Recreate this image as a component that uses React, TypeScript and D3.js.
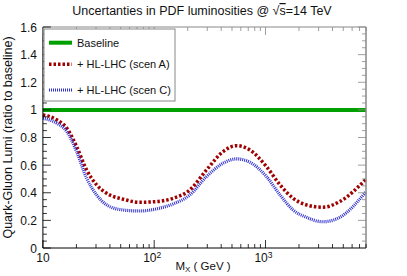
import React from "react";
import * as d3 from "d3";

const massA = [10, 13.3, 16.4, 20.1, 24.7, 30.4, 37.4, 52.7, 74.4, 105, 148, 209, 295, 416, 549, 723, 1021, 1351, 1772, 2334, 3289, 4645, 8000];
const lumiA = [0.964, 0.928, 0.867, 0.734, 0.565, 0.457, 0.396, 0.353, 0.331, 0.336, 0.36, 0.42, 0.565, 0.698, 0.741, 0.71, 0.589, 0.457, 0.36, 0.312, 0.295, 0.336, 0.498];
const massC = [10, 13.3, 16.4, 20.1, 24.7, 30.4, 37.4, 52.7, 74.4, 105, 148, 209, 295, 416, 549, 723, 1021, 1351, 1772, 2334, 3289, 4645, 8000];
const lumiC = [0.94, 0.904, 0.843, 0.698, 0.505, 0.384, 0.312, 0.275, 0.268, 0.283, 0.319, 0.384, 0.517, 0.614, 0.645, 0.621, 0.517, 0.384, 0.275, 0.222, 0.19, 0.222, 0.408];
const massBase = [10, 8000];
const lumiBase = [1, 1];
const yTicks = [0, 0.2, 0.4, 0.6, 0.8, 1, 1.2, 1.4, 1.6];
const xMajor = [10, 100, 1000];
const xMajorLabels = ["10", "10", "10"];
const xMajorExp = ["", "2", "3"];
const legendLabels = ["Baseline", "+ HL-LHC (scen A)", "+ HL-LHC (scen C)"];

const W = 407, H = 276;
const L = 42.9, R = 366, T = 27, B = 248;
const font = "'Liberation Sans', Arial, sans-serif";

export default function App() {
  const x = d3.scaleLog().domain([10, 8000]).range([L, R]);
  const y = d3.scaleLinear().domain([0, 1.6]).range([B, T]);
  const line = d3.line<[number, number]>().x(d => x(d[0])).y(d => y(d[1])).curve(d3.curveMonotoneX);
  const pathA = line(massA.map((m, i) => [m, lumiA[i]]) as [number, number][]) || "";
  const pathC = line(massC.map((m, i) => [m, lumiC[i]]) as [number, number][]) || "";
  const pathB = line(massBase.map((m, i) => [m, lumiBase[i]]) as [number, number][]) || "";

  const yMinor: number[] = [];
  for (let v = 0; v <= 1.6001; v += 0.05) yMinor.push(+v.toFixed(2));
  const xMinor: number[] = [];
  [10, 100, 1000].forEach(dec => { for (let k = 2; k <= 9; k++) { const v = dec * k; if (v <= 8000) xMinor.push(v); } });

  const red = "#a00000", blue = "#3030d0", green = "#00a000";
  return (
    <svg width={W} height={H} style={{ position: "absolute", left: 0, top: 0, background: "#fff" }} fontFamily={font}>
      <rect x={0} y={0} width={W} height={H} fill="#fff" />
      <text x={202} y={15} textAnchor="middle" fontSize={12.5} fill="#111">
        Uncertanties in PDF luminosities @ √<tspan textDecoration="overline">s</tspan>=14 TeV
      </text>
      {/* curves */}
      <path d={pathB} fill="none" stroke={green} strokeWidth={4} />
      <path d={pathA} fill="none" stroke={red} strokeWidth={3.5} strokeDasharray="2.5,2" />
      <path d={pathC} fill="none" stroke={blue} strokeWidth={3.2} strokeDasharray="1,1" />
      {/* frame */}
      <line x1={L} x2={R} y1={T} y2={T} stroke="#888" />
      <line x1={R} x2={R} y1={T} y2={B} stroke="#888" strokeWidth={1.5} />
      <line x1={L} x2={L} y1={T} y2={B} stroke="#000" />
      <line x1={L} x2={R} y1={B} y2={B} stroke="#000" />
      {/* y ticks */}
      {yMinor.map((v, i) => {
        const major = Math.abs(v / 0.2 - Math.round(v / 0.2)) < 1e-6;
        const len = major ? 8 : 4;
        return (
          <g key={"ym" + i}>
            <line x1={L} x2={L + len} y1={y(v)} y2={y(v)} stroke="#000" strokeWidth={0.8} />
            <line x1={R - len} x2={R} y1={y(v)} y2={y(v)} stroke="#888" strokeWidth={0.8} />
          </g>
        );
      })}
      {yTicks.map((v, i) => (
        <text key={"yt" + i} x={L - 6} y={y(v) + 4.5} textAnchor="end" fontSize={12} fill="#111">{String(v)}</text>
      ))}
      {/* x ticks */}
      {xMinor.map((v, i) => (
        <g key={"xm" + i}>
          <line x1={x(v)} x2={x(v)} y1={B} y2={B - 4} stroke="#000" strokeWidth={0.8} />
          <line x1={x(v)} x2={x(v)} y1={T} y2={T + 4} stroke="#888" strokeWidth={0.8} />
        </g>
      ))}
      {xMajor.map((v, i) => (
        <g key={"xM" + i}>
          <line x1={x(v)} x2={x(v)} y1={B} y2={B - 8} stroke="#000" strokeWidth={0.8} />
          <line x1={x(v)} x2={x(v)} y1={T} y2={T + 8} stroke="#888" strokeWidth={0.8} />
          <text x={x(v) + (xMajorExp[i] ? -2 : 0)} y={262} textAnchor="middle" fontSize={12} fill="#111">
            {xMajorLabels[i]}
            {xMajorExp[i] ? <tspan dy={-4.5} fontSize={8.5}>{xMajorExp[i]}</tspan> : null}
          </text>
        </g>
      ))}
      {/* axis titles */}
      <text x={203} y={270} textAnchor="middle" fontSize={11.5} fill="#111">
        M<tspan dy={2} fontSize={8}>X</tspan><tspan dy={-2}> ( GeV )</tspan>
      </text>
      <text transform={`translate(12,${(T + B) / 2}) rotate(-90)`} textAnchor="middle" fontSize={12.5} fill="#111">
        Quark-Gluon Lumi (ratio to baseline)
      </text>
      {/* legend */}
      <rect x={44} y={29} width={131} height={72} fill="#fff" stroke="#888" strokeWidth={1} />
      <line x1={49} x2={72} y1={42.7} y2={42.7} stroke={green} strokeWidth={4} />
      <line x1={49} x2={72} y1={64.3} y2={64.3} stroke={red} strokeWidth={3.5} strokeDasharray="2.5,2" />
      <line x1={49} x2={72} y1={90} y2={90} stroke={blue} strokeWidth={3.2} strokeDasharray="1,1" />
      <text x={77} y={46.5} fontSize={11} fill="#111">{legendLabels[0]}</text>
      <text x={77} y={68} fontSize={11} fill="#111">{legendLabels[1]}</text>
      <text x={77} y={93.8} fontSize={11} fill="#111">{legendLabels[2]}</text>
    </svg>
  );
}
